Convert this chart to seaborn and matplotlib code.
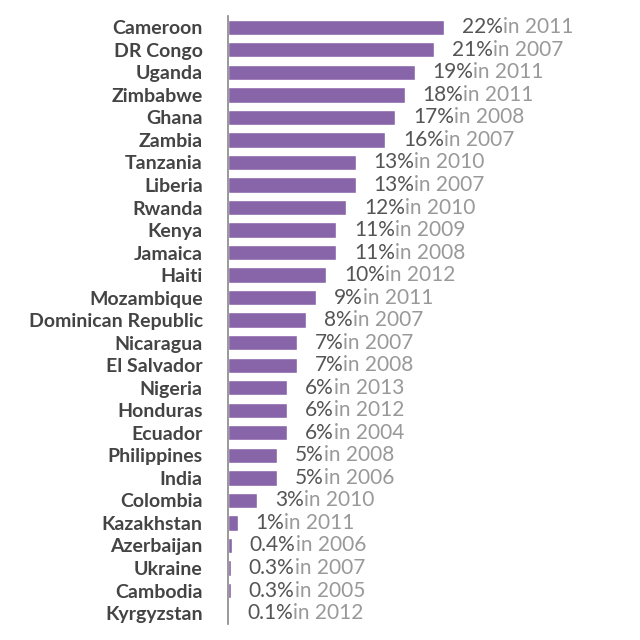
import matplotlib
matplotlib.use("Agg")
import matplotlib.pyplot as plt
import seaborn as sns
import pandas as pd

countries = ["Cameroon","DR Congo","Uganda","Zimbabwe","Ghana","Zambia","Tanzania","Liberia","Rwanda","Kenya","Jamaica","Haiti","Mozambique","Dominican Republic","Nicaragua","El Salvador","Nigeria","Honduras","Ecuador","Philippines","India","Colombia","Kazakhstan","Azerbaijan","Ukraine","Cambodia","Kyrgyzstan"]
values = [22,21,19,18,17,16,13,13,12,11,11,10,9,8,7,7,6,6,6,5,5,3,1,0.4,0.3,0.3,0.1]
labels = ["22%","21%","19%","18%","17%","16%","13%","13%","12%","11%","11%","10%","9%","8%","7%","7%","6%","6%","6%","5%","5%","3%","1%","0.4%","0.3%","0.3%","0.1%"]
years = [2011,2007,2011,2011,2008,2007,2010,2007,2010,2009,2008,2012,2011,2007,2007,2008,2013,2012,2004,2008,2006,2010,2011,2006,2007,2005,2012]

sns.set_theme(style="white")
plt.rcParams['font.family'] = ['Lato', 'DejaVu Sans']
df = pd.DataFrame({"country": countries, "value": values})
fig = plt.figure(figsize=(6.4, 6.4), dpi=100)
ax = fig.add_axes([0.356, 0.0245, 0.634, 0.9505])
sns.barplot(data=df, x="value", y="country", color="#8864a8", saturation=1, width=0.68, ax=ax)
ax.set_xlim(0, 41.3)
ax.set_ylim(26.5, -0.5)
for s in ["top", "right", "bottom"]:
    ax.spines[s].set_visible(False)
ax.spines["left"].set_color("#888888")
ax.spines["left"].set_linewidth(1.2)
ax.set_xticks([])
ax.set_xlabel(""); ax.set_ylabel("")
ax.tick_params(axis="y", length=0, pad=18)
for t in ax.get_yticklabels():
    t.set_fontsize(14); t.set_fontweight("bold"); t.set_color("#444444")
for i, (v, l, y) in enumerate(zip(values, labels, years)):
    t = ax.annotate(l, xy=(v, i), xytext=(13, 0), textcoords="offset points",
                    va="center", ha="left", fontsize=15, color="#555555")
    ax.annotate(f"in {y}", xy=(1, 0), xycoords=t, va="bottom", ha="left",
                fontsize=15, color="#999999")
fig.savefig("out.png", dpi=100)
